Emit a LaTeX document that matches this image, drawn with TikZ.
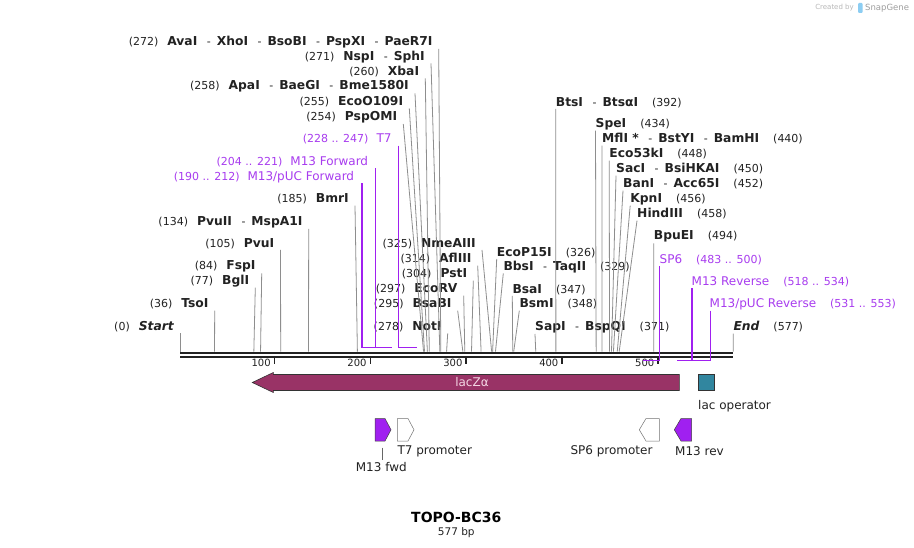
\documentclass[tikz,border=0pt]{standalone}
\usepackage{fontspec}
\setmainfont{DejaVu Sans}
\usepackage{tikz}
\usetikzlibrary{positioning}

\definecolor{cutgray}{HTML}{8E8E8E}
\definecolor{primer}{HTML}{A020F0}
\definecolor{primertext}{HTML}{A83CEF}
\definecolor{laczfill}{HTML}{993366}
\definecolor{laczlabel}{HTML}{F4D6E4}
\definecolor{lacopfill}{HTML}{31869F}
\definecolor{mapink}{HTML}{222222}
\definecolor{snaplogo}{HTML}{8CCDF2}

\newcommand\bpnum[1]{{\fontsize{11}{13}\selectfont(#1)}}
\newcommand\enz[1]{{\fontsize{12.3}{14}\selectfont\bfseries #1}}
\newcommand\featname[1]{{\fontsize{12}{14}\selectfont #1}}
\newcommand\cutsep{\hspace{9.5pt}{\fontsize{11}{13}\selectfont-}\hspace{6pt}}

\begin{document}
\begin{tikzpicture}[x=1pt, y=-1pt,
  cutL/.style={anchor=east, inner xsep=6pt, inner ysep=0pt, minimum height=13pt, text=mapink},
  cutR/.style={anchor=west, inner sep=0pt, minimum height=13pt, text=mapink},
  featL/.style={cutL, text=primertext},
  featR/.style={cutR, text=primertext},
  cutline/.style={draw=cutgray, line width=0.8pt},
  featline/.style={draw=primer, line width=1.5pt},
  primerarrow/.style={fill=primer, draw=black!75, line width=0.5pt},
  promoterarrow/.style={fill=white, draw=black!55, line width=0.5pt},
  maplabel/.style={inner sep=0pt, text=mapink, font=\fontsize{12}{14}\selectfont}
]
\path[use as bounding box, fill=white] (0,0) rectangle (914,548);

% sites on the sequence
\foreach \bp in {0,36,77,84,105,134,185,254,255,258,260,271,272,278,295,297,304,314,325,326,329,347,348,371,392,434,440,448,450,452,456,458,494,577}
  \coordinate (c\bp) at ({180+0.9589*\bp},351.7);
\foreach \bp in {190,204,212,221,228,247}
  \coordinate (f\bp) at ({180+0.9589*\bp},347.3);
\foreach \bp in {483,500,518,531,534,553}
  \coordinate (r\bp) at ({180+0.9589*\bp},360.5);

% labels left of their sites
\node[cutL]  (startlbl) at (180,326.7)   {\bpnum{0}\hspace{9pt}\enz{\itshape Start}};
\node[cutL]  (tsoI)     at (214.7,304)   {\bpnum{36}\hspace{9pt}\enz{TsoI}};
\node[cutL]  (bglI)     at (255.3,281)   {\bpnum{77}\hspace{9pt}\enz{BglI}};
\node[cutL]  (fspI)     at (261.7,266.7) {\bpnum{84}\hspace{9pt}\enz{FspI}};
\node[cutL]  (pvuI)     at (280.5,243.3) {\bpnum{105}\hspace{9pt}\enz{PvuI}};
\node[cutL]  (pvuII)    at (308.7,222.3) {\bpnum{134}\hspace{9pt}\enz{PvuII}\cutsep\enz{MspA1I}};
\node[cutL]  (bmrI)     at (355,199)     {\bpnum{185}\hspace{9pt}\enz{BmrI}};
\node[featL] (pucfwd)   at (360.3,176.7) {\bpnum{190 .. 212}\hspace{8pt}\featname{M13/pUC Forward}};
\node[featL] (m13fwd)   at (374.3,161.7) {\bpnum{204 .. 221}\hspace{8pt}\featname{M13 Forward}};
\node[featL] (t7)       at (397.7,139)   {\bpnum{228 .. 247}\hspace{8pt}\featname{T7}};
\node[cutL]  (pspOMI)   at (403.3,117.3) {\bpnum{254}\hspace{9pt}\enz{PspOMI}};
\node[cutL]  (ecoO109I) at (409.3,101.7) {\bpnum{255}\hspace{9pt}\enz{EcoO109I}};
\node[cutL]  (apaI)     at (415,86.7)    {\bpnum{258}\hspace{9pt}\enz{ApaI}\cutsep\enz{BaeGI}\cutsep\enz{Bme1580I}};
\node[cutL]  (xbaI)     at (425.3,71.7)  {\bpnum{260}\hspace{9pt}\enz{XbaI}};
\node[cutL]  (nspI)     at (431,56.7)    {\bpnum{271}\hspace{9pt}\enz{NspI}\cutsep\enz{SphI}};
\node[cutL]  (avaI)     at (438.7,42.3)  {\bpnum{272}\hspace{9pt}\enz{AvaI}\cutsep\enz{XhoI}\cutsep\enz{BsoBI}\cutsep\enz{PspXI}\cutsep\enz{PaeR7I}};
\node[cutL]  (notI)     at (447.7,326.7) {\bpnum{278}\hspace{9pt}\enz{NotI}};
\node[cutL]  (bsaBI)    at (457.7,304)   {\bpnum{295}\hspace{9pt}\enz{BsaBI}};
\node[cutL]  (ecoRV)    at (463.7,289)   {\bpnum{297}\hspace{9pt}\enz{EcoRV}};
\node[cutL]  (pstI)     at (473.3,274)   {\bpnum{304}\hspace{9pt}\enz{PstI}};
\node[cutL]  (aflIII)   at (477.7,259)   {\bpnum{314}\hspace{9pt}\enz{AflIII}};
\node[cutL]  (nmeAIII)  at (482,243.3)   {\bpnum{325}\hspace{9pt}\enz{NmeAIII}};

% labels right of their sites
\node[cutR]  (ecoP15I)  at (496.7,252.3) {\enz{EcoP15I}\hspace{14pt}\bpnum{326}};
\node[cutR]  (bbsI)     at (503.3,266.7) {\enz{BbsI}\cutsep\enz{TaqII}\hspace{14pt}\bpnum{329}};
\node[cutR]  (bsaI)     at (512.3,289.3) {\enz{BsaI}\hspace{14pt}\bpnum{347}};
\node[cutR]  (bsmI)     at (519.3,304)   {\enz{BsmI}\hspace{14pt}\bpnum{348}};
\node[cutR]  (sapI)     at (535,327.3)   {\enz{SapI}\cutsep\enz{BspQI}\hspace{14pt}\bpnum{371}};
\node[cutR]  (btsI)     at (555.7,102.3) {\enz{BtsI}\cutsep\enz{BtsαI}\hspace{14pt}\bpnum{392}};
\node[cutR]  (speI)     at (595.5,124)   {\enz{SpeI}\hspace{14pt}\bpnum{434}};
\node[cutR]  (mflI)     at (602,139)     {\enz{MflI *}\cutsep\enz{BstYI}\cutsep\enz{BamHI}\hspace{14pt}\bpnum{440}};
\node[cutR]  (eco53kI)  at (609.2,154)   {\enz{Eco53kI}\hspace{14pt}\bpnum{448}};
\node[cutR]  (sacI)     at (616,169)     {\enz{SacI}\cutsep\enz{BsiHKAI}\hspace{14pt}\bpnum{450}};
\node[cutR]  (banI)     at (623,184)     {\enz{BanI}\cutsep\enz{Acc65I}\hspace{14pt}\bpnum{452}};
\node[cutR]  (kpnI)     at (630.2,199)   {\enz{KpnI}\hspace{14pt}\bpnum{456}};
\node[cutR]  (hindIII)  at (637,214)     {\enz{HindIII}\hspace{14pt}\bpnum{458}};
\node[cutR]  (bpuEI)    at (653.7,236.7) {\enz{BpuEI}\hspace{14pt}\bpnum{494}};
\node[featR] (sp6)      at (659.5,259.3) {\featname{SP6}\hspace{14pt}\bpnum{483 .. 500}};
\node[featR] (m13rev)   at (691.5,281.7) {\featname{M13 Reverse}\hspace{14pt}\bpnum{518 .. 534}};
\node[featR] (pucrev)   at (709.5,304)   {\featname{M13/pUC Reverse}\hspace{14pt}\bpnum{531 .. 553}};
\node[cutR]  (endlbl)   at (733.3,327)   {\enz{\itshape End}\hspace{14pt}\bpnum{577}};

% leader lines
\foreach \lbl/\bp in {startlbl/0,tsoI/36,bglI/77,fspI/84,pvuI/105,pvuII/134,bmrI/185,pspOMI/254,ecoO109I/255,apaI/258,xbaI/260,nspI/271,avaI/272,notI/278,bsaBI/295,ecoRV/297,pstI/304,aflIII/314,nmeAIII/325}
  \draw[cutline] (\lbl.south east) -- (c\bp);
\foreach \lbl/\bp in {ecoP15I/326,bbsI/329,bsaI/347,bsmI/348,sapI/371,btsI/392,speI/434,mflI/440,eco53kI/448,sacI/450,banI/452,kpnI/456,hindIII/458,bpuEI/494,endlbl/577}
  \draw[cutline] (\lbl.south west) -- (c\bp);

% sequence and ruler
\coordinate (seqL) at (180,354.85);
\coordinate (seqR) at (733.3,354.85);
\draw[line width=6.3pt, mapink] (seqL) -- (seqR);
\draw[line width=1.7pt, white] (seqL) -- (seqR);
\foreach \t in {100,200,300,400,500} {
  \coordinate (t\t) at ({178.5+0.9589*\t},358);
  \draw[line width=1.5pt, mapink] (t\t) -- ++(0,6);
  \node[anchor=east, inner sep=0pt, text=mapink, font=\fontsize{10}{12}\selectfont] (tl\t) at ([shift={(-3.5,5.3)}]t\t) {\t};
}

% primer binding sites
\draw[featline] (f190 |- pucfwd.south) -- (f190) -- (f212);
\draw[featline] (f204 |- m13fwd.south) -- (f204) -- (f221);
\draw[featline] (f228 |- t7.south) -- (f228) -- (f247);
\draw[featline] (r500 |- sp6.south) -- (r500) -- (r483);
\draw[featline] (r534 |- m13rev.south) -- (r534) -- (r518);
\draw[featline] (r553 |- pucrev.south) -- (r553) -- (r531);

% lacZ alpha and lac operator
\draw[fill=laczfill, draw=black!80, line width=0.6pt] (679.3,374.5) -- (273.3,374.5) -- (273.3,372.5) -- (252.3,382.5) -- (273.3,392.5) -- (273.3,390.5) -- (679.3,390.5) -- cycle;
\node[text=laczlabel, font=\fontsize{12}{14}\selectfont] (lacz) at (472,382.5) {lacZα};
\node[draw=black!80, fill=lacopfill, line width=0.6pt, minimum width=16pt, minimum height=16pt, inner sep=0pt] (lacop) at (706.3,382.4) {};
\node[maplabel, below=9pt of lacop.south west, anchor=north west] (lacoplbl) {lac operator};

% primers and promoters
\draw[primerarrow] (375,418.5) -- (385,418.5) -- (391,429.8) -- (385,441) -- (375,441) -- cycle;
\draw[promoterarrow] (397.3,418.5) -- (408,418.5) -- (414,429.8) -- (408,441) -- (397.3,441) -- cycle;
\draw[promoterarrow] (659.3,418.5) -- (646,418.5) -- (639.3,429.8) -- (646,441) -- (659.3,441) -- cycle;
\draw[primerarrow] (691.7,418.5) -- (681,418.5) -- (674.3,429.8) -- (681,441) -- (691.7,441) -- cycle;
\coordinate (m13fwdfoot) at (382.7,447.5);
\node[maplabel] (m13fwdlbl) at (381.3,466.7) {M13 fwd};
\draw[black!60, line width=0.6pt, shorten >=2pt] (m13fwdfoot) -- (m13fwdfoot |- m13fwdlbl.north);
\node[maplabel, anchor=west] (t7prom)    at (397.3,451) {T7 promoter};
\node[maplabel, anchor=east] (sp6prom)   at (652.7,451) {SP6 promoter};
\node[maplabel, anchor=west] (m13revlbl) at (675,451)   {M13 rev};

% map name
\node[inner sep=0pt, text=black, font=\bfseries\fontsize{14}{17}\selectfont] (mapname) at (456.3,517.3) {TOPO-BC36};
\node[maplabel, font=\fontsize{10.5}{12}\selectfont, below=4.4pt of mapname] (maplen) {577 bp};

% watermark
\node[anchor=east, inner sep=0pt, text=black!28, font=\fontsize{7}{8}\selectfont] (createdby) at (854,8) {Created by};
\fill[snaplogo, rounded corners=1pt] (858,3) rectangle (862.5,13);
\node[anchor=west, inner sep=0pt, text=black!38, font=\fontsize{8.5}{10}\selectfont] (snapgene) at (865,8) {SnapGene};
\end{tikzpicture}
\end{document}
